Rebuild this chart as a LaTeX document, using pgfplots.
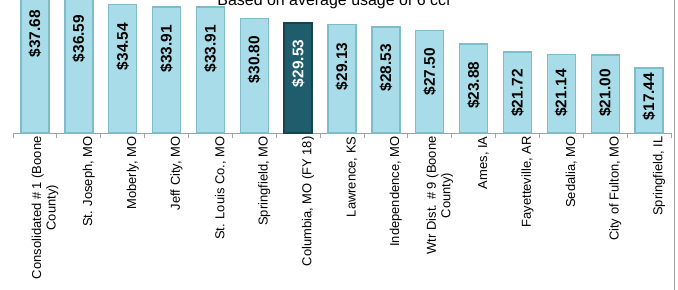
\documentclass[border=0pt]{standalone}
\usepackage{pgfplots}
\pgfplotsset{compat=1.18}
\usepackage{pgfplotstable}
\usepackage{fontspec}
\setmainfont{Liberation Sans}
\definecolor{barlight}{HTML}{A8DCE8}
\definecolor{baredge}{HTML}{7FBCCB}
\definecolor{bardark}{HTML}{1F5D6C}
\definecolor{bardarkedge}{HTML}{15444F}
\definecolor{axgray}{HTML}{A0A0A0}

\pgfplotstableread{
x y ly
0 37.68 26.7
1 36.59 25.4
2 34.54 23.25
3 33.91 22.6
4 33.91 22.6
5 30.80 19.75
6 29.53 18.7
7 29.13 17.9
8 28.53 17.5
9 27.50 16.5
10 23.88 12.8
11 21.72 10.75
12 21.14 10.75
13 21.00 10.75
14 17.44 9.8
}\ratedata

\begin{document}
\begin{tikzpicture}
\useasboundingbox (0,0) rectangle (678bp,290bp);
\clip (0,0) rectangle (678bp,290bp);
\begin{axis}[
  at={(13bp,157bp)}, anchor=south west,
  scale only axis, width=658bp, height=143bp,
  xmin=-0.5, xmax=14.5, ymin=0, ymax=38.44,
  axis x line*=bottom, hide y axis,
  axis line style={axgray, line width=0.8bp},
  xtick={0,...,14},
  xticklabels={{Consolidated \# 1 (Boone\\County)},{St. Joseph, MO},{Moberly, MO},{Jeff City, MO},{St. Louis Co., MO},{Springfield, MO},{Columbia, MO (FY 18)},{Lawrence, KS},{Independence, MO},{Wtr Dist. \# 9 (Boone\\County)},{Ames, IA},{Fayetteville, AR},{Sedalia, MO},{City of Fulton, MO},{Springfield, IL}},
  major tick length=0pt,
  minor xtick={-0.5,0.5,...,14.5},
  minor tick length=5bp,
  tick align=outside,
  minor tick style={axgray, line width=0.8bp},
  xticklabel style={rotate=90, anchor=east, align=center, font=\fontsize{13}{14.5}\selectfont, yshift=-10bp},
  clip=false,
]
\addplot[ybar, bar width=28bp, bar shift=0pt, draw=baredge, line width=1.4bp, fill=barlight]
  table[x=x, y=y] {\ratedata};
\addplot[ybar, bar width=28bp, bar shift=0pt, draw=bardarkedge, line width=1.4bp, fill=bardark]
  coordinates {(6,29.53)};
\addplot[draw=none, mark=none, skip coords between index={6}{7},
  point meta=\thisrow{y},
  nodes near coords={\$\pgfmathprintnumber[fixed,fixed zerofill,precision=2,assume math mode=true]{\pgfplotspointmeta}},
  every node near coord/.style={rotate=90, anchor=center, text=black, font=\fontsize{15.5}{16}\selectfont\bfseries}]
  table[x=x, y=ly] {\ratedata};
\addplot[draw=none, mark=none,
  point meta=explicit,
  nodes near coords={\$\pgfmathprintnumber[fixed,fixed zerofill,precision=2,assume math mode=true]{\pgfplotspointmeta}},
  every node near coord/.style={rotate=90, anchor=center, text=white, font=\fontsize{15.5}{16}\selectfont\bfseries}]
  coordinates {(6,18.7) [29.53]};
\end{axis}
\draw[axgray, line width=0.8bp] (674bp,0) -- (674bp,290bp);
\node[anchor=base, font=\fontsize{16}{18}\selectfont, inner sep=0pt] at (334bp,284bp) {Based on average usage of 6 ccf};
\end{tikzpicture}
\end{document}
